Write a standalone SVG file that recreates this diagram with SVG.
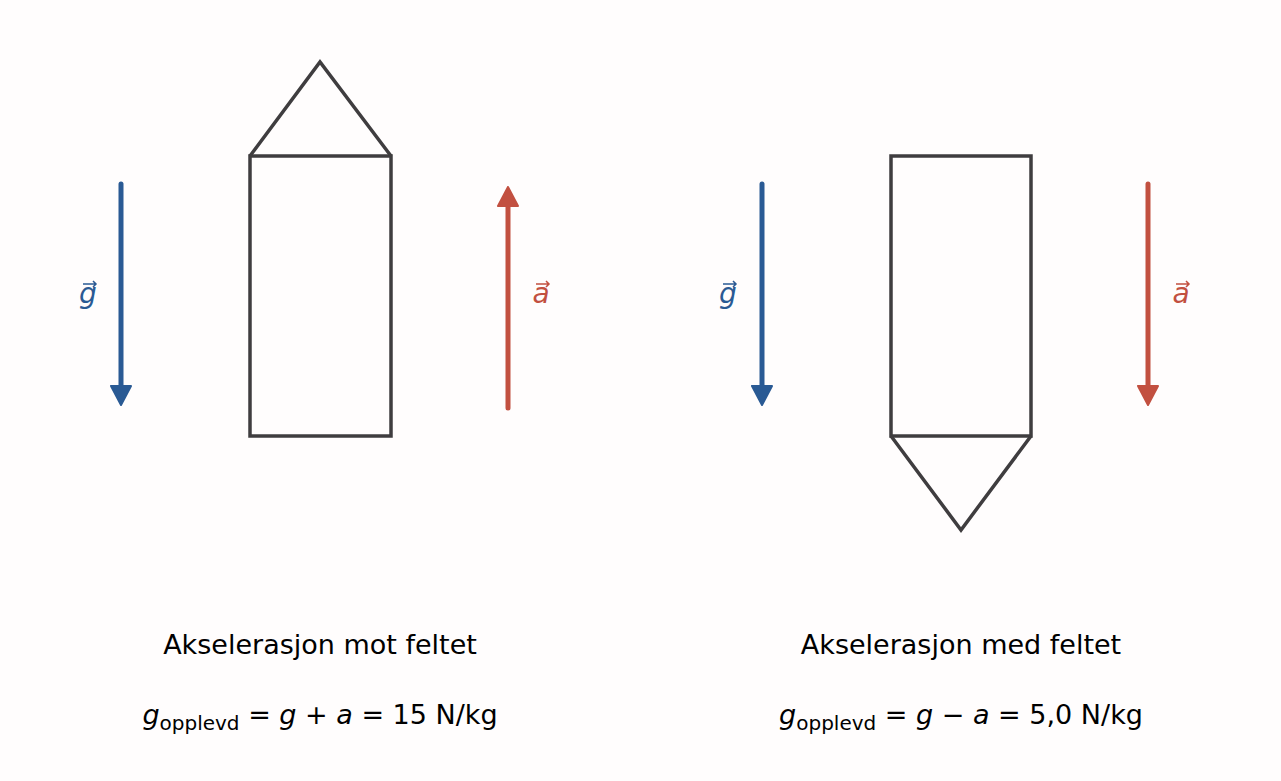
<svg xmlns="http://www.w3.org/2000/svg" width="1281" height="781" viewBox="0 0 1281 781">
<style>
.box{fill:none;stroke:#3f3d3f;stroke-width:3.5}
.g{stroke:#2a5a94;stroke-width:5;stroke-linecap:round;fill:none}
.a{stroke:#c25040;stroke-width:5;stroke-linecap:round;fill:none}
.t{font-family:"DejaVu Sans",sans-serif;font-size:27px;fill:#000;text-anchor:middle}
.v{font-family:"DejaVu Sans",sans-serif;font-size:28px;font-style:italic;text-anchor:middle}
.va{stroke-width:1.5;fill:none}
</style>
<rect width="1281" height="781" fill="#fffdfd"/>
<g id="rocket1"><rect class="box" x="250" y="156" width="141" height="280"/><polyline class="box" points="250,156 320,62 391,156"/></g>
<g id="rocket2"><rect class="box" x="891" y="156" width="140" height="280"/><polyline class="box" points="891,436 961,530 1031,436"/></g>
<g id="connectors">
<line class="g" x1="121" y1="184" x2="121" y2="392"/><path d="M111,386 L131,386 L121,405 Z" fill="#2a5a94" stroke="#2a5a94" stroke-width="2" stroke-linejoin="round"/>
<line class="a" x1="508" y1="408" x2="508" y2="200"/><path d="M498,206 L518,206 L508,187 Z" fill="#c25040" stroke="#c25040" stroke-width="2" stroke-linejoin="round"/>
<line class="g" x1="762" y1="184" x2="762" y2="392"/><path d="M752,386 L772,386 L762,405 Z" fill="#2a5a94" stroke="#2a5a94" stroke-width="2" stroke-linejoin="round"/>
<line class="a" x1="1148" y1="184" x2="1148" y2="392"/><path d="M1138,386 L1158,386 L1148,405 Z" fill="#c25040" stroke="#c25040" stroke-width="2" stroke-linejoin="round"/>
</g>
<g id="labels">
<text class="v" x="88" y="303" fill="#2a5a94">g</text><path class="va" stroke="#2a5a94" d="M83,284 H96 M93,281 L96,284 L93,287"/>
<text class="v" x="541" y="303" fill="#c25040">a</text><path class="va" stroke="#c25040" d="M536,284 H549 M546,281 L549,284 L546,287"/>
<text class="v" x="728" y="303" fill="#2a5a94">g</text><path class="va" stroke="#2a5a94" d="M723,284 H736 M733,281 L736,284 L733,287"/>
<text class="v" x="1181" y="303" fill="#c25040">a</text><path class="va" stroke="#c25040" d="M1176,284 H1189 M1186,281 L1189,284 L1186,287"/>
<text class="t" x="320" y="654">Akselerasjon mot feltet</text>
<text class="t" x="961" y="654">Akselerasjon med feltet</text>
<text class="t" x="320" y="724"><tspan font-style="italic">g</tspan><tspan font-size="20" dy="6">opplevd</tspan><tspan dy="-6"> = </tspan><tspan font-style="italic">g</tspan> + <tspan font-style="italic">a</tspan> = 15 N/kg</text>
<text class="t" x="961" y="724"><tspan font-style="italic">g</tspan><tspan font-size="20" dy="6">opplevd</tspan><tspan dy="-6"> = </tspan><tspan font-style="italic">g</tspan> − <tspan font-style="italic">a</tspan> = 5,0 N/kg</text>
</g>
</svg>
